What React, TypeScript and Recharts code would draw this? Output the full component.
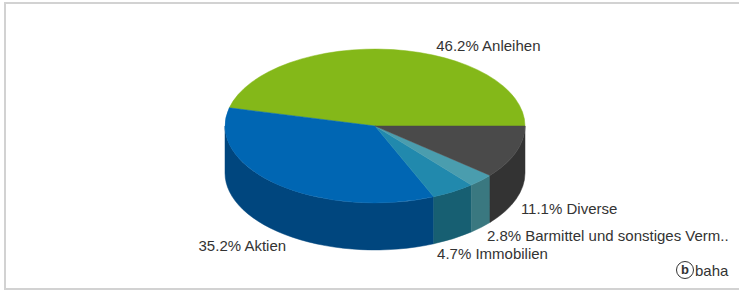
import { PieChart, Pie, Cell } from "recharts";

const NAMES = ["Anleihen", "Aktien", "Immobilien", "Barmittel und sonstiges Verm..", "Diverse"];
const VALUES = [46.2, 35.2, 4.7, 2.8, 11.1];

const TOP_COLORS = ["#84b819", "#0066b3", "#2189ad", "#4a9dae", "#4a4a4a"];
const SIDE_COLORS = ["#5e8412", "#00467e", "#175f72", "#3a7880", "#333333"];

const TILT = 0.513;
const DEPTH = 47;
const LABEL_DIST = 10;
const LABEL_GAP = 18;

const data = NAMES.map((name, i) => ({ name, value: VALUES[i] }));

const RAD = Math.PI / 180;

// 3D-Sektor: Seitenwand (nur vorne sichtbar) + Deckfläche als Ellipse
function Slice3D(props: any) {
  const { cx, cy, outerRadius, startAngle, endAngle, index } = props;
  const rx = outerRadius;
  const ry = outerRadius * TILT;
  const pt = (a: number, dy = 0) => [cx + rx * Math.cos(a * RAD), cy - ry * Math.sin(a * RAD) + dy];
  const s = Math.min(startAngle, endAngle);
  const e = Math.max(startAngle, endAngle);
  const i = index ?? 0;
  const top = TOP_COLORS[i % TOP_COLORS.length];
  const side = SIDE_COLORS[i % SIDE_COLORS.length];

  const [sx, sy] = pt(s);
  const [ex, ey] = pt(e);
  const large = e - s > 180 ? 1 : 0;
  const topPath = `M${cx},${cy} L${sx},${sy} A${rx},${ry} 0 ${large} 0 ${ex},${ey} Z`;

  let wall = null;
  const a1 = Math.max(s, 180);
  const a2 = Math.min(e, 360);
  if (a2 > a1) {
    const [x1, y1] = pt(a1);
    const [x2, y2] = pt(a2);
    const [x2b, y2b] = pt(a2, DEPTH);
    const [x1b, y1b] = pt(a1, DEPTH);
    const wl = a2 - a1 > 180 ? 1 : 0;
    wall = (
      <path
        d={`M${x1},${y1} A${rx},${ry} 0 ${wl} 0 ${x2},${y2} L${x2b},${y2b} A${rx},${ry} 0 ${wl} 1 ${x1b},${y1b} Z`}
        fill={side}
        stroke={side}
        strokeWidth={0.5}
      />
    );
  }
  return (
    <g>
      {wall}
      <path d={topPath} fill={top} stroke={top} strokeWidth={0.5} />
    </g>
  );
}

// Label-Höhen vorab bestimmen und auf jeder Seite auseinanderschieben (wie Highcharts)
function labelYs(cy: number, ry: number) {
  const total = VALUES.reduce((a, b) => a + b, 0);
  let cum = 0;
  const items = VALUES.map((v, i) => {
    const mid = ((cum + v / 2) / total) * 360;
    cum += v;
    const sn = Math.sin(mid * RAD);
    const y = cy - (ry + LABEL_DIST) * sn + (sn < 0 ? DEPTH : 0) + 6;
    return { i, y, right: Math.cos(mid * RAD) >= 0 };
  });
  const ys: number[] = [];
  [true, false].forEach((side) => {
    const group = items.filter((it) => it.right === side).sort((a, b) => b.y - a.y);
    let prev = Infinity;
    group.forEach((it) => {
      const y = Math.min(it.y, prev - LABEL_GAP);
      ys[it.i] = y;
      prev = y;
    });
  });
  return ys;
}

function renderLabel(props: any) {
  const { cx, cy, midAngle, outerRadius, name, value, index } = props;
  const ry = outerRadius * TILT;
  const y = labelYs(cy, ry)[index];
  const sn = Math.sin(midAngle * RAD);
  const right = Math.cos(midAngle * RAD) >= 0;
  const cyc = cy + (sn < 0 ? DEPTH : 0);
  const k = (y - cyc) / (ry + LABEL_DIST);
  const x = cx + (right ? 1 : -1) * (outerRadius + LABEL_DIST) * Math.sqrt(Math.max(0, 1 - k * k));
  return (
    <text
      x={x}
      y={y}
      textAnchor={right ? "start" : "end"}
      dominantBaseline="central"
      fill="#333"
      fontSize={15}
      fontFamily="'Liberation Sans', Arial, sans-serif"
    >
      {`${value.toFixed(1)}% ${name}`}
    </text>
  );
}

export default function App() {
  return (
    <div style={{ position: "absolute", left: 0, top: 0, width: 739, height: 291, background: "#fff", overflow: "hidden" }}>
      <div
        style={{
          position: "absolute",
          left: 4,
          top: 2,
          width: 760,
          height: 288,
          border: "2px solid #d2d2d2",
          boxSizing: "border-box",
        }}
      />
      <PieChart
        width={739}
        height={291}
        margin={{ top: 0, right: 0, bottom: 0, left: 0 }}
        style={{ position: "absolute", left: 0, top: 0 }}
      >
        <Pie
          data={data}
          dataKey="value"
          nameKey="name"
          cx={375}
          cy={126}
          outerRadius={150}
          startAngle={0}
          endAngle={360}
          stroke="none"
          isAnimationActive={false}
          labelLine={false}
          label={renderLabel}
          shape={Slice3D}
          activeShape={Slice3D}
          inactiveShape={Slice3D}
        >
          {data.map((_, i) => (
            <Cell key={i} fill={TOP_COLORS[i]} />
          ))}
        </Pie>
      </PieChart>
      <div
        style={{
          position: "absolute",
          left: 676,
          top: 261,
          display: "flex",
          alignItems: "center",
          fontFamily: "'Liberation Sans', Arial, sans-serif",
          color: "#333",
          fontSize: 15,
        }}
      >
        <span
          style={{
            display: "inline-flex",
            alignItems: "center",
            justifyContent: "center",
            width: 16,
            height: 16,
            borderRadius: "50%",
            border: "1.5px solid #333",
            fontWeight: "bold",
            fontSize: 13,
            lineHeight: "16px",
            marginRight: 1,
          }}
        >
          b
        </span>
        <span>baha</span>
      </div>
    </div>
  );
}
